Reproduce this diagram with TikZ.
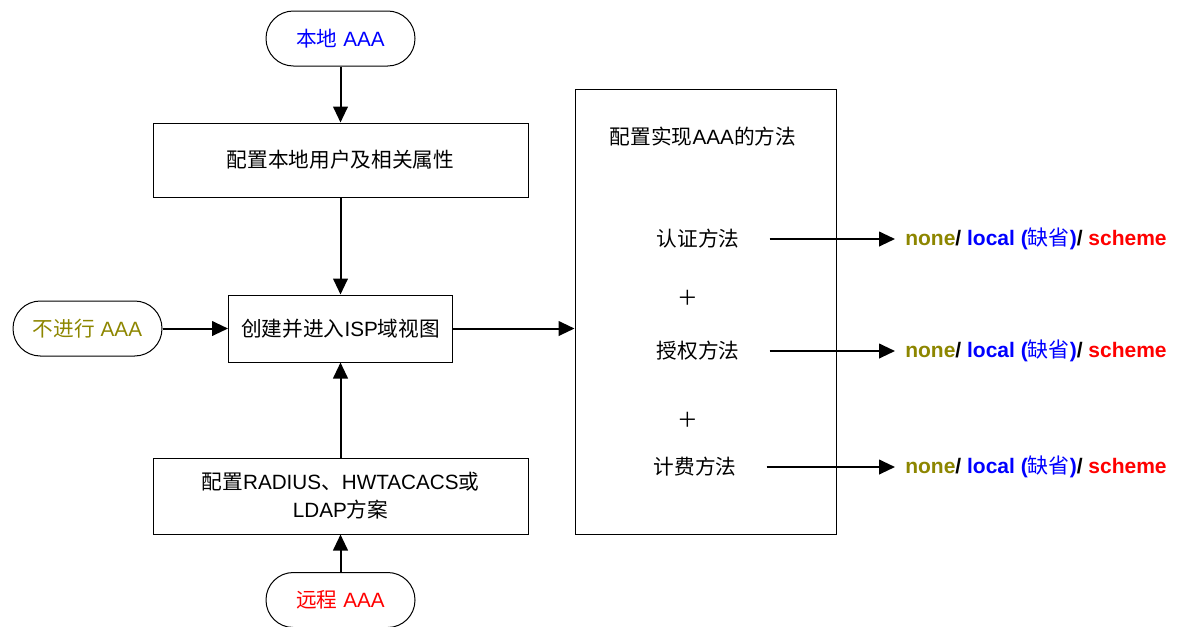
\documentclass[tikz,border=0pt]{standalone}
\usepackage{fontspec}
\setmainfont{Liberation Sans}
\newfontfamily\cjk{Noto Sans CJK SC}
\usetikzlibrary{arrows.meta}
\newcommand\zh[1]{{\cjk\mdseries #1}}
\begin{document}
\begin{tikzpicture}[x=0.75pt,y=-0.75pt,
  every node/.style={font=\fontsize{15.5}{21}\selectfont},
  box/.style={draw, line width=0.75pt, inner sep=0pt, align=center},
  term/.style={draw, line width=0.75pt, rounded corners=20.5pt, minimum width=111.75pt, minimum height=41.25pt, inner sep=0pt},
  lbl/.style={inner sep=0pt},
  arr/.style={line width=1.5pt, -{Triangle[length=12pt,width=11pt]}},
  res/.style={anchor=west, inner xsep=7.5pt, inner ysep=0pt, font=\fontsize{15.75}{21}\selectfont\bfseries}
]
\useasboundingbox (0,0) rectangle (1178,626);

\node[term] (local) at (340.5,38.5) {\textcolor{blue}{\zh{本地} AAA}};
\node[box, minimum width=281.25pt, minimum height=55.5pt] (cfg) at (340.5,160) {\zh{配置本地用户及相关属性}};
\node[box, minimum width=168pt, minimum height=50.25pt] (isp) at (340.5,328.5) {\zh{创建并进入}ISP\zh{域视图}};
\node[term] (noaaa) at (87.5,328.5) {\textcolor{olive}{\zh{不进行} AAA}};
\node[box, minimum width=281.25pt, minimum height=57pt] (sch) at (340.5,496) {\zh{配置}RADIUS\zh{、}HWTACACS\zh{或}\\LDAP\zh{方案}};
\node[term] (remote) at (340.5,600) {\textcolor{red}{\zh{远程} AAA}};

\node[box, minimum width=195.75pt, minimum height=333.75pt] (methods) at (705.5,311.5) {};
\node[lbl] (title) at (703,137) {\zh{配置实现}AAA\zh{的方法}};
\node[lbl] (authn) at (698,239) {\zh{认证方法}};
\node[lbl] (p1) at (688,298) {\zh{＋}};
\node[lbl] (authz) at (698,351) {\zh{授权方法}};
\node[lbl] (p2) at (688,420) {\zh{＋}};
\node[lbl] (acct) at (695,467) {\zh{计费方法}};

\node[res] (r1) at (895,239) {\textcolor{olive}{none}/ \textcolor{blue}{local (\zh{缺省})}/ \textcolor{red}{scheme}};
\node[res] (r2) at (895,351) {\textcolor{olive}{none}/ \textcolor{blue}{local (\zh{缺省})}/ \textcolor{red}{scheme}};
\node[res] (r3) at (895,467) {\textcolor{olive}{none}/ \textcolor{blue}{local (\zh{缺省})}/ \textcolor{red}{scheme}};

\draw[arr] (local) -- (cfg);
\draw[arr] (cfg) -- (isp);
\draw[arr] (noaaa) -- (isp);
\draw[arr] (sch) -- (isp);
\draw[arr] (remote) -- (sch);
\draw[arr] (isp.east) -- (isp.east -| methods.west);
\draw[arr] ([xshift=22.5pt]authn.east) -- (r1.west);
\draw[arr] ([xshift=22.5pt]authz.east) -- (r2.west);
\draw[arr] ([xshift=22.5pt]acct.east) -- (r3.west);
\end{tikzpicture}
\end{document}
